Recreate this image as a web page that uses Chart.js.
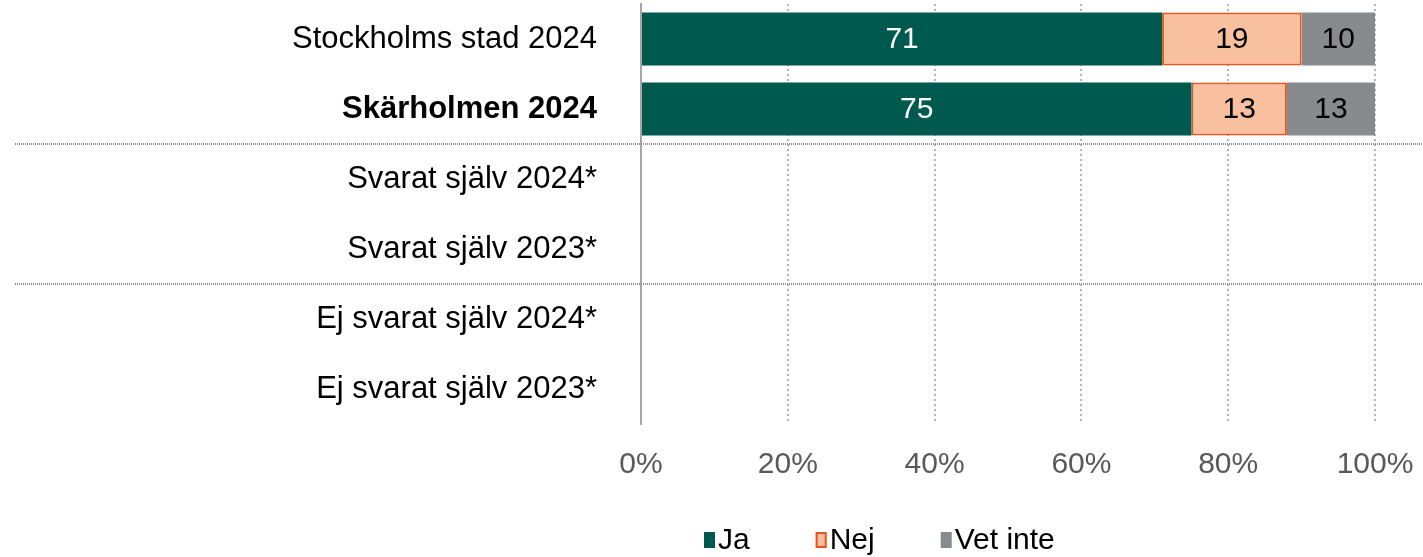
<!DOCTYPE html>
<html lang="sv">
<head>
<meta charset="utf-8">
<title>Ja / Nej / Vet inte</title>
<script src="https://cdn.jsdelivr.net/npm/chart.js@4"></script>
<style>
  html, body { margin: 0; padding: 0; background: #fff; }
  #wrap { position: relative; width: 1423px; height: 557px; }
</style>
</head>
<body>
<div id="wrap"><canvas id="grafico"></canvas></div>
<script>
// ====== DATOS ======
const kategorier = [
  'Stockholms stad 2024',
  'Skärholmen 2024',
  'Svarat själv 2024*',
  'Svarat själv 2023*',
  'Ej svarat själv 2024*',
  'Ej svarat själv 2023*'
];
const ja      = [71, 75, null, null, null, null];
const nej     = [19, 13, null, null, null, null];
const vetInte = [10, 13, null, null, null, null];
const xTicks  = [0, 20, 40, 60, 80, 100];

// ====== ESTILO ======
const FONT = '"Liberation Sans", Arial, sans-serif';
const VERDE = '#00594F';
const NARANJA_FONDO = '#F8C09F';
const NARANJA_BORDE = '#E8561E';
const GRIS = '#888B8D';

// etiquetas con el valor en el centro de cada segmento
const etiquetasValor = {
  id: 'etiquetasValor',
  afterDatasetsDraw(chart) {
    const ctx = chart.ctx;
    ctx.save();
    ctx.font = '30px ' + FONT;
    ctx.textAlign = 'center';
    ctx.textBaseline = 'middle';
    chart.data.datasets.forEach((ds, i) => {
      const meta = chart.getDatasetMeta(i);
      meta.data.forEach((bar, j) => {
        const v = ds.data[j];
        if (v == null) return;
        const right = Math.min(bar.x, chart.chartArea.right);
        const cx = (right + bar.base) / 2;
        ctx.fillStyle = ds.labelColor;
        ctx.fillText(String(v), cx, bar.y + 1);
      });
    });
    ctx.restore();
  }
};

// líneas punteadas que separan los grupos de filas
const separadores = {
  id: 'separadores',
  afterDraw(chart) {
    const y = chart.scales.y;
    const ctx = chart.ctx;
    ctx.save();
    ctx.strokeStyle = '#8E8E8E';
    ctx.lineWidth = 2;
    ctx.setLineDash([1, 1]);
    [1, 3].forEach(i => {
      const py = Math.round((y.getPixelForValue(i) + y.getPixelForValue(i + 1)) / 2);
      ctx.beginPath();
      ctx.moveTo(15, py);
      ctx.lineTo(chart.width, py);
      ctx.stroke();
    });
    ctx.restore();
  }
};

// leyenda dibujada a mano (cuadro pegado al texto)
const leyenda = {
  id: 'leyenda',
  afterDraw(chart) {
    const ctx = chart.ctx;
    ctx.save();
    ctx.font = '30px ' + FONT;
    ctx.textBaseline = 'middle';
    let x = 704;
    const cy = 540;
    chart.data.datasets.forEach(ds => {
      ctx.fillStyle = ds.backgroundColor;
      ctx.fillRect(x, cy - 8, 11, 16);
      if (ds.borderWidth) {
        ctx.strokeStyle = ds.borderColor;
        ctx.lineWidth = 2;
        ctx.strokeRect(x + 1, cy - 7, 9, 14);
      }
      ctx.fillStyle = '#000';
      ctx.textAlign = 'left';
      ctx.fillText(ds.label, x + 14, cy + 1);
      x += 14 + ctx.measureText(ds.label).width + 66;
    });
    ctx.restore();
  }
};

new Chart(document.getElementById('grafico'), {
  type: 'bar',
  data: {
    labels: kategorier,
    datasets: [
      { label: 'Ja', data: ja, backgroundColor: VERDE, borderWidth: 0, labelColor: '#FFFFFF' },
      { label: 'Nej', data: nej, backgroundColor: NARANJA_FONDO, borderColor: NARANJA_BORDE,
        borderWidth: 2, borderSkipped: false, labelColor: '#000000' },
      { label: 'Vet inte', data: vetInte, backgroundColor: GRIS, borderWidth: 0, labelColor: '#000000' }
    ]
  },
  options: {
    indexAxis: 'y',
    responsive: true,
    maintainAspectRatio: false,
    animation: false,
    barPercentage: 0.76,
    categoryPercentage: 1,
    layout: { padding: { top: 4, right: 48, bottom: 0, left: 0 } },
    plugins: {
      legend: { display: false },
      tooltip: { enabled: false }
    },
    scales: {
      x: {
        stacked: true,
        min: 0,
        max: 100,
        afterBuildTicks: s => { s.ticks = xTicks.map(v => ({ value: v })); },
        afterFit: s => { s.height = 133; s.paddingLeft = 0; s.paddingRight = 0; },
        ticks: {
          callback: v => v + '%',
          color: '#595959',
          font: { family: FONT, size: 30 },
          padding: 23,
          maxRotation: 0
        },
        grid: {
          drawTicks: false,
          color: c => c.index === 0 ? 'rgba(0,0,0,0)' : '#B4B4B4',
          lineWidth: 2
        },
        border: { display: false, dash: [2, 3] }
      },
      y: {
        stacked: true,
        afterFit: s => { s.width = 641; s.paddingTop = 0; s.paddingBottom = 0; },
        ticks: {
          color: '#000',
          padding: 44,
          font: c => ({ family: FONT, size: 31, weight: c.index === 1 ? 'bold' : 'normal' })
        },
        grid: { display: false, drawTicks: false },
        border: { display: true, color: '#A6A6A6', width: 2 }
      }
    }
  },
  plugins: [etiquetasValor, separadores, leyenda]
});
</script>
</body>
</html>
